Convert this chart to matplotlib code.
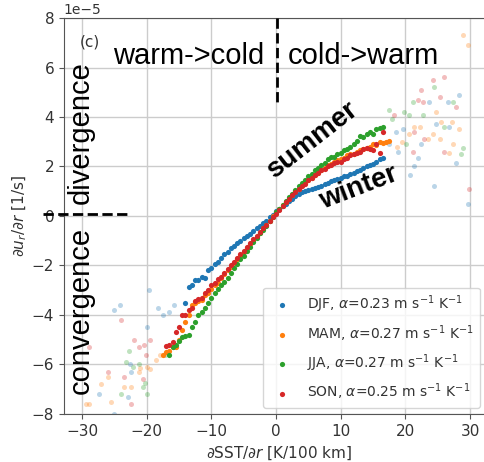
import numpy as np
import matplotlib
matplotlib.use('Agg')
import matplotlib.pyplot as plt

# Bin-averaged divergence vs cross-front SST gradient, one curve per season
# x in K/100 km, y in units of 1e-5 1/s
djf_x = [-14, -13.5, -13, -12.5, -12, -11.5, -11, -10.5, -10, -9.5, -9, -8.5, -8, -7.5,
         -7, -6.5, -6, -5.5, -5, -4.5, -4, -3.5, -3, -2.5, -2, -1.5, -1, -0.5, 0, 0.5,
         1, 1.5, 2, 2.5, 3, 3.5, 4, 4.5, 5, 5.5, 6, 6.5, 7, 7.5, 8, 8.5, 9, 9.5, 10,
         10.5, 11, 11.5, 12, 12.5, 13, 13.5, 14, 14.5, 15, 15.5, 16, 16.5]
djf_y = [-3.5, -2.85, -2.8, -2.6, -2.6, -2.45, -2.5, -2.2, -2.1, -1.95, -1.85, -1.7, -1.55,
         -1.45, -1.3, -1.2, -1.1, -1.0, -0.9, -0.8, -0.72, -0.6, -0.5, -0.4, -0.3, -0.2,
         -0.05, 0.05, 0.2, 0.3, 0.4, 0.5, 0.6, 0.7, 0.8, 0.88, 0.95, 1.0, 1.05, 1.1, 1.15,
         1.18, 1.22, 1.3, 1.35, 1.4, 1.45, 1.5, 1.55, 1.6, 1.62, 1.7, 1.75, 1.8, 1.85,
         1.95, 2.0, 2.05, 2.1, 2.2, 2.3, 2.35]

mam_x = [-17.5, -17, -16.5, -16, -15.5, -15, -14.5, -14, -13.5, -13, -12.5, -12, -11.5,
         -11, -10.5, -10, -9.5, -9, -8.5, -8, -7.5, -7, -6.5, -6, -5.5, -5, -4.5, -4,
         -3.5, -3, -2.5, -2, -1.5, -1, -0.5, 0, 0.5, 1, 1.5, 2, 2.5, 3, 3.5, 4, 4.5, 5,
         5.5, 6, 6.5, 7, 7.5, 8, 8.5, 9, 9.5, 10, 10.5, 11, 11.5, 12, 12.5, 13, 13.5,
         14, 14.5, 15, 15.5, 16, 16.5, 17, 17.5]
mam_y = [-5.6, -5.5, -5.45, -5.3, -5.3, -5.0, -4.6, -4.3, -4.0, -3.6, -3.5, -3.45, -3.4,
         -3.2, -3.1, -2.95, -2.8, -2.7, -2.5, -2.35, -2.2, -2.05, -1.9, -1.75, -1.6,
         -1.45, -1.3, -1.15, -1.0, -0.85, -0.7, -0.5, -0.35, -0.2, 0.0, 0.15, 0.3, 0.45,
         0.55, 0.7, 0.85, 1.0, 1.1, 1.25, 1.35, 1.45, 1.55, 1.65, 1.75, 1.85, 1.95, 2.05,
         2.1, 2.2, 2.25, 2.3, 2.35, 2.45, 2.5, 2.5, 2.6, 2.65, 2.7, 2.75, 2.8, 2.9, 2.85,
         3.0, 2.95, 3.0, 3.05]

jja_x = [-16.5, -16, -15.5, -15, -14.5, -14, -13.5, -13, -12.5, -12, -11.5, -11, -10.5,
         -10, -9.5, -9, -8.5, -8, -7.5, -7, -6.5, -6, -5.5, -5, -4.5, -4, -3.5, -3, -2.5,
         -2, -1.5, -1, -0.5, 0, 0.5, 1, 1.5, 2, 2.5, 3, 3.5, 4, 4.5, 5, 5.5, 6, 6.5, 7,
         7.5, 8, 8.5, 9, 9.5, 10, 10.5, 11, 11.5, 12, 12.5, 13, 13.5, 14, 14.5, 15, 15.5,
         16, 16.5]
jja_y = [-5.6, -5.3, -5.2, -5.05, -4.9, -4.85, -4.8, -4.5, -4.3, -4.0, -3.9, -3.7, -3.5,
         -3.3, -3.1, -2.95, -2.8, -2.65, -2.5, -2.3, -2.1, -1.95, -1.75, -1.6, -1.4,
         -1.25, -1.05, -0.9, -0.7, -0.55, -0.4, -0.2, -0.05, 0.15, 0.3, 0.45, 0.6, 0.75,
         0.9, 1.05, 1.2, 1.35, 1.45, 1.6, 1.7, 1.85, 1.95, 2.05, 2.15, 2.3, 2.4, 2.4,
         2.5, 2.55, 2.65, 2.7, 2.8, 2.9, 3.05, 3.25, 3.2, 3.3, 3.4, 3.3, 3.5, 3.55, 3.6]

son_x = [-17, -16.5, -16, -15.5, -15, -14.5, -14, -13.5, -13, -12.5, -12, -11.5, -11,
         -10.5, -10, -9.5, -9, -8.5, -8, -7.5, -7, -6.5, -6, -5.5, -5, -4.5, -4, -3.5,
         -3, -2.5, -2, -1.5, -1, -0.5, 0, 0.5, 1, 1.5, 2, 2.5, 3, 3.5, 4, 4.5, 5, 5.5,
         6, 6.5, 7, 7.5, 8, 8.5, 9, 9.5, 10, 10.5, 11, 11.5, 12, 12.5, 13, 13.5, 14,
         14.5, 15, 15.5, 16, 16.5]
son_y = [-5.25, -5.2, -5.1, -4.7, -4.5, -4.0, -4.0, -3.8, -3.7, -3.45, -3.35, -3.3, -3.1,
         -3.0, -2.8, -2.7, -2.55, -2.45, -2.3, -2.15, -2.0, -1.85, -1.7, -1.55, -1.4,
         -1.25, -1.1, -0.95, -0.8, -0.65, -0.5, -0.35, -0.2, -0.05, 0.1, 0.25, 0.4,
         0.55, 0.7, 0.85, 0.95, 1.1, 1.2, 1.3, 1.45, 1.55, 1.65, 1.75, 1.85, 1.9, 2.0,
         2.05, 2.15, 2.2, 2.2, 2.3, 2.35, 2.45, 2.5, 2.55, 2.6, 2.7, 2.75, 2.7, 2.65,
         2.9, 2.55, 3.4]

# sparsely sampled bins, drawn faint
djf_fx = [-19.6, -24.1, -25.0, -18.2, -19.9, -22.4, -27.4, -22.9, -25.0, -17.4, -15.8,
          -16.5, -22.6, 28.3, 23.7, 26.6, 24.7, 18.5, 19.6, 26.7, 22.4, 21.9, 27.8, 21.3,
          20.7, 24.4, 29.7, 17.5, 18.8]
djf_fy = [-3.0, -3.6, -3.8, -3.7, -4.5, -6.3, -7.2, -7.3, -8.0, -4.0, -3.6, -3.9, -6.0,
          4.9, 4.6, 4.6, 3.7, 3.4, 3.5, 3.6, 2.9, 2.35, 2.15, 2.0, 1.65, 1.2, 0.5, 2.9,
          2.6]
mam_fx = [-29.4, -28.9, -25.5, -26.0, -27.0, -22.4, -21.2, -23.5, -18.5, -19.5, -21.0,
          -20.0, -18.0, 28.9, 29.7, 24.7, 25.5, 21.3, 22.2, 28.3, 27.2, 23.5, 24.2, 25.3,
          18.7, 26.7, 27.3, 19.5, 20.6]
mam_fy = [-7.6, -7.6, -7.5, -6.5, -6.8, -6.9, -6.3, -6.9, -5.8, -6.2, -6.15, -6.1, -5.6,
          7.3, 6.9, 4.2, 3.8, 3.6, 3.6, 3.5, 3.8, 3.1, 3.3, 3.1, 2.8, 2.55, 2.9, 3.0, 3.3]
jja_fx = [-22.7, -22.1, -21.2, -20.6, -24.0, -19.9, -23.2, -20.3, -17.2, 24.4, 21.2, 27.4,
          17.5, 19.8, 20.6, 22.7, 26.0, 20.1, 28.9, 28.6, 18.0]
jja_fy = [-5.45, -6.1, -6.0, -6.9, -7.2, -7.2, -5.9, -6.75, -5.6, 5.2, 4.6, 4.6, 4.3, 4.2,
          4.1, 4.1, 3.6, 2.9, 2.75, 2.5, 3.9]
son_fx = [-24.0, -28.9, -21.9, -19.5, -21.2, -20.1, -26.0, -23.5, -20.6, -22.4, -20.4,
          24.3, 26.0, 22.4, 25.3, 21.9, 22.7, 27.8, 18.3, 22.9, 21.4, 21.2, 29.8, 25.9]
son_fy = [-4.2, -5.3, -5.0, -5.0, -5.3, -5.6, -6.3, -6.5, -6.6, -7.6, -5.2, 5.5, 5.6, 5.1,
          4.8, 4.7, 4.6, 4.4, 4.1, 3.1, 3.4, 2.6, 1.1, 2.6]

seasons = ['DJF', 'MAM', 'JJA', 'SON']
alphas = [0.23, 0.27, 0.27, 0.25]
colors = ['#1f77b4', '#ff7f0e', '#2ca02c', '#d62728']

main = [(djf_x, djf_y), (mam_x, mam_y), (jja_x, jja_y), (son_x, son_y)]
faint = [(djf_fx, djf_fy), (mam_fx, mam_fy), (jja_fx, jja_fy), (son_fx, son_fy)]

scale = 1e-5
txt = '#333333'

fig = plt.figure(figsize=(4.84, 4.62), dpi=100)
ax = fig.add_axes([0.132, 0.104, 0.89, 0.857])

for (fx, fy), c in zip(faint, colors):
    ax.scatter(fx, np.array(fy) * scale, s=13, color=c, alpha=0.3, lw=0, zorder=2)

for (x, y), c, name, a in zip(main, colors, seasons, alphas):
    ax.scatter(x, np.array(y) * scale, s=14, color=c, lw=0, zorder=3,
               label=name + r', $\alpha$=%.2f m s$^{-1}$ K$^{-1}$' % a)

ax.set_xlim(-32.8, 33.8)
ax.set_ylim(-8e-5, 8e-5)
ax.set_xticks([-30, -20, -10, 0, 10, 20, 30])
ax.set_yticks(np.arange(-8, 9, 2) * scale)
ax.grid(True, color='#cccccc', lw=1)
ax.set_axisbelow(True)
ax.tick_params(labelsize=11, colors='#555555', labelcolor=txt)
ax.yaxis.get_offset_text().set_fontsize(10)
ax.yaxis.get_offset_text().set_color(txt)
for sp in ax.spines.values():
    sp.set_color('#555555')
ax.spines['right'].set_visible(False)

ax.set_xlabel(r'$\partial$SST/$\partial r$ [K/100 km]', fontsize=11, color=txt, labelpad=4)
ax.set_ylabel(r'$\partial u_r/\partial r$ [1/s]', fontsize=11, color=txt, labelpad=2)

# guide lines splitting the quadrants
ax.plot([0.2, 0.2], [8e-5, 4.45e-5], 'k--', lw=2, zorder=4)
ax.plot([-36, -23], [0.1e-5, 0.1e-5], 'k--', lw=2, zorder=4, clip_on=False)

big = dict(family='Liberation Sans', fontsize=21, color='k')
ax.text(-30.4, 7.35e-5, '(c)', fontsize=11, color=txt, va='top')
ax.text(-25.2, 6.14e-5, 'warm->cold', va='baseline', **big)
ax.text(1.85, 6.14e-5, 'cold->warm', va='baseline', **big)
ax.text(-28.9, 0.5e-5, 'divergence', rotation=90, rotation_mode='anchor',
        ha='left', va='baseline', **big)
ax.text(-28.9, -7.19e-5, 'convergence', rotation=90, rotation_mode='anchor',
        ha='left', va='baseline', **big)
ax.text(-0.3, 1.5e-5, 'summer', rotation=38, rotation_mode='anchor', ha='left',
        va='baseline', family='Liberation Sans', fontsize=20, fontweight='bold')
ax.text(7.3, 0.3e-5, 'winter', rotation=21, rotation_mode='anchor', ha='left',
        va='baseline', family='Liberation Sans', fontsize=20, fontweight='bold')

ax.legend(loc='lower right', bbox_to_anchor=(0.965, 0.015), borderaxespad=0,
          fontsize=10, labelspacing=0.6, labelcolor=txt)

fig.savefig('out.png', dpi=100)
